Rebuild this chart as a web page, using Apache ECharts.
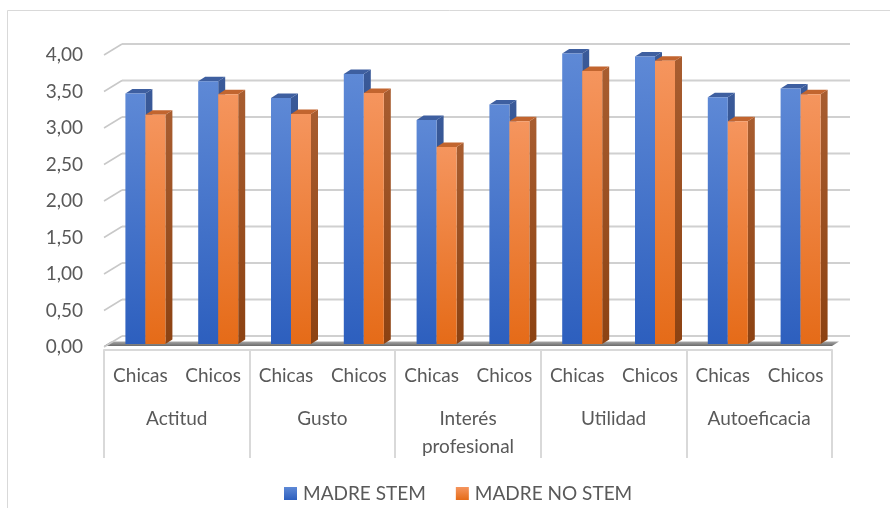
<!DOCTYPE html>
<html>
<head>
<meta charset="utf-8">
<script src="https://cdn.jsdelivr.net/npm/echarts@6/dist/echarts.min.js"></script>
<style>
html,body{margin:0;padding:0;background:#fff;}
#chart{width:890px;height:508px;}
</style>
</head>
<body>
<div id="chart"></div>
<script>
// ---- data ----
const categories = ['Chicas','Chicos','Chicas','Chicos','Chicas','Chicos','Chicas','Chicos','Chicas','Chicos'];
const groups = ['Actitud','Gusto','Interés\nprofesional','Utilidad','Autoeficacia'];
const seriesNames = ['MADRE STEM','MADRE NO STEM'];
const madreStem   = [3.43, 3.60, 3.37, 3.70, 3.07, 3.28, 3.98, 3.94, 3.38, 3.50];
const madreNoStem = [3.14, 3.42, 3.15, 3.44, 2.70, 3.05, 3.74, 3.88, 3.05, 3.42];
const yMin = 0, yMax = 4, yInterval = 0.5;

// ---- styling constants ----
const FONT = 'Lato';
const TXT = '#595959';
const DX = 18, DY = -11;          // back wall offset
const BDX = 7, BDY = -4.5;        // bar depth
const BSX = 5, BSY = -3;          // bar placement inside depth
const BW = 20;                    // bar front width

const grad = (a, b) => new echarts.graphic.LinearGradient(0, 0, 0, 1, [{offset:0,color:a},{offset:1,color:b}]);
const palettes = [
  {front:['#5E89D6','#2D5FBE'], side:['#3A5A99','#23447F'], top:'#3E5FA0', legend:['#5E89D6','#2D5FBE']},
  {front:['#F5955E','#E56B18'], side:['#A85D30','#8C4212'], top:'#C2652F', legend:['#F5955E','#E56B18']}
];

const tickValues = [];
for (let v = yMin; v <= yMax + 1e-9; v += yInterval) tickValues.push([0, +v.toFixed(2)]);

function wallRender(params, api) {
  const cs = params.coordSys;
  const v = api.value(1);
  const p = api.coord([0, v]);
  const y = p[1];
  const children = [];
  if (v === 0) {
    children.push({
      type:'polygon',
      shape:{points:[[cs.x, y-1],[cs.x+cs.width, y-1],[cs.x+cs.width+BDX, y-1-4.5],[cs.x+BDX, y-1-4.5]]},
      style:{fill: grad('#a8a8a8','#6a6a6a')}
    });
  }
  children.push({
    type:'line',
    shape:{x1: cs.x + DX, y1: y + DY, x2: cs.x + cs.width + DX, y2: y + DY},
    style:{stroke:'#d0d0d0', lineWidth:2}
  });
  children.push({
    type:'line',
    shape:{x1: cs.x, y1: y, x2: cs.x + DX, y2: y + DY},
    style:{stroke:'#c8c8c8', lineWidth:1.5}
  });
  return {type:'group', children};
}

function barRender(sIdx) {
  const pal = palettes[sIdx];
  return function(params, api) {
    const i = api.value(0);
    const v = api.value(1);
    const p = api.coord([i, v]);
    const b = api.coord([i, 0]);
    const x0 = p[0] + BSX + (sIdx === 0 ? -BW : 0);
    const top = p[1] + BSY;
    const bot = b[1] + BSY;
    return {
      type:'group',
      children:[
        {type:'polygon', shape:{points:[[x0+BW, top],[x0+BW+BDX, top+BDY],[x0+BW+BDX, bot+BDY],[x0+BW, bot]]},
         style:{fill: grad(pal.side[0], pal.side[1])}},
        {type:'polygon', shape:{points:[[x0, top],[x0+BDX, top+BDY],[x0+BW+BDX, top+BDY],[x0+BW, top]]},
         style:{fill: pal.top}},
        {type:'rect', shape:{x:x0, y:top, width:BW, height:bot-top},
         style:{fill: grad(pal.front[0], pal.front[1])}}
      ]
    };
  };
}

const chart = echarts.init(document.getElementById('chart'), null, {renderer:'canvas'});
chart.setOption({
  animation:false,
  backgroundColor:'#fff',
  textStyle:{fontFamily:FONT},
  graphic:[{type:'rect', shape:{x:7.5, y:10.5, width:900, height:520}, style:{fill:'none', stroke:'#d9d9d9', lineWidth:1}, z:-1}],
  grid:{left:104, right:58, top:55, bottom:161, containLabel:false},
  legend:{
    data:seriesNames, bottom:0, left:279, icon:'rect', itemWidth:13, itemHeight:13, itemGap:30,
    textStyle:{fontFamily:FONT, fontSize:19, color:TXT, padding:[0,0,0,1]}
  },
  xAxis:[
    {type:'category', data:categories, position:'bottom',
     axisLine:{show:false}, axisTick:{show:false}, splitLine:{show:false},
     axisLabel:{interval:0, margin:19, fontFamily:FONT, fontSize:19, color:TXT}},
    {type:'category', data:groups, position:'bottom', offset:3,
     axisLine:{show:true, lineStyle:{color:'#d9d9d9', width:2}},
     axisTick:{show:true, length:108, interval:0, lineStyle:{color:'#d9d9d9', width:2}},
     axisLabel:{interval:0, margin:55, lineHeight:28, fontFamily:FONT, fontSize:19, color:TXT}}
  ],
  yAxis:{type:'value', min:yMin, max:yMax, interval:yInterval,
    axisLine:{show:false}, axisTick:{show:false}, splitLine:{show:false},
    axisLabel:{margin:21, fontFamily:FONT, fontSize:19, color:TXT,
      formatter: v => v.toFixed(2).replace('.', ',')}},
  series:[
    {type:'custom', name:'walls', xAxisIndex:0, renderItem:wallRender, data:tickValues, z:1, silent:true, clip:false},
    {type:'custom', name:seriesNames[0], xAxisIndex:0, renderItem:barRender(0), clip:false, z:2,
     itemStyle:{color: grad(palettes[0].legend[0], palettes[0].legend[1])},
     data: madreStem.map((v,i)=>[i,v])},
    {type:'custom', name:seriesNames[1], xAxisIndex:0, renderItem:barRender(1), clip:false, z:3,
     itemStyle:{color: grad(palettes[1].legend[0], palettes[1].legend[1])},
     data: madreNoStem.map((v,i)=>[i,v])}
  ]
});
</script>
</body>
</html>
